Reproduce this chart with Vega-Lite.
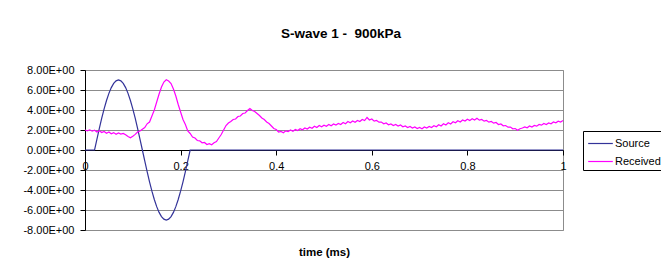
{
  "$schema": "https://vega.github.io/schema/vega-lite/v6.json",
  "width": 478,
  "height": 160,
  "autosize": {"type": "none"},
  "padding": {"left": 85, "top": 70, "right": 98, "bottom": 41},
  "background": "white",
  "config": {"font": "Liberation Sans", "view": {"stroke": "#8c8c8c", "strokeWidth": 1}},
  "title": {"text": "S-wave 1 - \u00a0900kPa", "fontSize": 13.5, "fontWeight": "bold", "color": "#000", "offset": 24, "dx": 17, "anchor": "middle"},
  "data": {"values": [
    {"s":"Source","t":0,"v":0},{"s":"Source","t":0.02,"v":0},{"s":"Source","t":0.025,"v":1.095},{"s":"Source","t":0.03,"v":2.163},{"s":"Source","t":0.035,"v":3.178},{"s":"Source","t":0.04,"v":4.115},{"s":"Source","t":0.045,"v":4.95},{"s":"Source","t":0.05,"v":5.663},{"s":"Source","t":0.055,"v":6.237},{"s":"Source","t":0.06,"v":6.657},{"s":"Source","t":0.065,"v":6.914},{"s":"Source","t":0.07,"v":7},{"s":"Source","t":0.075,"v":6.914},{"s":"Source","t":0.08,"v":6.657},{"s":"Source","t":0.085,"v":6.237},{"s":"Source","t":0.09,"v":5.663},{"s":"Source","t":0.095,"v":4.95},{"s":"Source","t":0.1,"v":4.115},{"s":"Source","t":0.105,"v":3.178},{"s":"Source","t":0.11,"v":2.163},{"s":"Source","t":0.115,"v":1.095},{"s":"Source","t":0.12,"v":0},{"s":"Source","t":0.125,"v":-1.095},{"s":"Source","t":0.13,"v":-2.163},{"s":"Source","t":0.135,"v":-3.178},{"s":"Source","t":0.14,"v":-4.115},{"s":"Source","t":0.145,"v":-4.95},{"s":"Source","t":0.15,"v":-5.663},{"s":"Source","t":0.155,"v":-6.237},{"s":"Source","t":0.16,"v":-6.657},{"s":"Source","t":0.165,"v":-6.914},{"s":"Source","t":0.17,"v":-7},{"s":"Source","t":0.175,"v":-6.914},{"s":"Source","t":0.18,"v":-6.657},{"s":"Source","t":0.185,"v":-6.237},{"s":"Source","t":0.19,"v":-5.663},{"s":"Source","t":0.195,"v":-4.95},{"s":"Source","t":0.2,"v":-4.115},{"s":"Source","t":0.205,"v":-3.178},{"s":"Source","t":0.21,"v":-2.163},{"s":"Source","t":0.215,"v":-1.095},{"s":"Source","t":0.22,"v":0},{"s":"Source","t":1,"v":0},
    {"s":"Received","t":0,"v":2.0},{"s":"Received","t":0.005,"v":1.92},{"s":"Received","t":0.01,"v":2.02},{"s":"Received","t":0.015,"v":1.88},{"s":"Received","t":0.02,"v":1.98},{"s":"Received","t":0.025,"v":1.8},{"s":"Received","t":0.03,"v":1.92},{"s":"Received","t":0.035,"v":1.74},{"s":"Received","t":0.04,"v":1.86},{"s":"Received","t":0.045,"v":1.68},{"s":"Received","t":0.05,"v":1.8},{"s":"Received","t":0.055,"v":1.62},{"s":"Received","t":0.06,"v":1.74},{"s":"Received","t":0.065,"v":1.58},{"s":"Received","t":0.07,"v":1.7},{"s":"Received","t":0.075,"v":1.6},{"s":"Received","t":0.08,"v":1.66},{"s":"Received","t":0.085,"v":1.52},{"s":"Received","t":0.09,"v":1.36},{"s":"Received","t":0.095,"v":1.22},{"s":"Received","t":0.1,"v":1.38},{"s":"Received","t":0.105,"v":1.56},{"s":"Received","t":0.11,"v":1.8},{"s":"Received","t":0.115,"v":1.9},{"s":"Received","t":0.12,"v":2.08},{"s":"Received","t":0.125,"v":2.24},{"s":"Received","t":0.13,"v":2.62},{"s":"Received","t":0.135,"v":2.8},{"s":"Received","t":0.14,"v":3.4},{"s":"Received","t":0.145,"v":4.0},{"s":"Received","t":0.15,"v":4.8},{"s":"Received","t":0.155,"v":5.6},{"s":"Received","t":0.16,"v":6.3},{"s":"Received","t":0.165,"v":6.8},{"s":"Received","t":0.17,"v":7.02},{"s":"Received","t":0.175,"v":6.9},{"s":"Received","t":0.18,"v":6.65},{"s":"Received","t":0.185,"v":6.1},{"s":"Received","t":0.19,"v":5.4},{"s":"Received","t":0.195,"v":4.55},{"s":"Received","t":0.2,"v":3.8},{"s":"Received","t":0.205,"v":3.05},{"s":"Received","t":0.21,"v":2.55},{"s":"Received","t":0.215,"v":1.9},{"s":"Received","t":0.22,"v":1.65},{"s":"Received","t":0.225,"v":1.3},{"s":"Received","t":0.23,"v":1.2},{"s":"Received","t":0.235,"v":0.95},{"s":"Received","t":0.24,"v":0.92},{"s":"Received","t":0.245,"v":0.72},{"s":"Received","t":0.25,"v":0.75},{"s":"Received","t":0.255,"v":0.55},{"s":"Received","t":0.26,"v":0.64},{"s":"Received","t":0.265,"v":0.52},{"s":"Received","t":0.27,"v":0.72},{"s":"Received","t":0.275,"v":0.85},{"s":"Received","t":0.28,"v":1.2},{"s":"Received","t":0.285,"v":1.55},{"s":"Received","t":0.29,"v":2.0},{"s":"Received","t":0.295,"v":2.45},{"s":"Received","t":0.3,"v":2.7},{"s":"Received","t":0.305,"v":2.85},{"s":"Received","t":0.31,"v":3.05},{"s":"Received","t":0.315,"v":3.1},{"s":"Received","t":0.32,"v":3.35},{"s":"Received","t":0.325,"v":3.4},{"s":"Received","t":0.33,"v":3.65},{"s":"Received","t":0.335,"v":3.7},{"s":"Received","t":0.34,"v":3.95},{"s":"Received","t":0.345,"v":4.15},{"s":"Received","t":0.35,"v":3.95},{"s":"Received","t":0.355,"v":3.85},{"s":"Received","t":0.36,"v":3.65},{"s":"Received","t":0.365,"v":3.45},{"s":"Received","t":0.37,"v":3.2},{"s":"Received","t":0.375,"v":3.05},{"s":"Received","t":0.38,"v":2.8},{"s":"Received","t":0.385,"v":2.65},{"s":"Received","t":0.39,"v":2.4},{"s":"Received","t":0.395,"v":2.15},{"s":"Received","t":0.4,"v":2.05},{"s":"Received","t":0.405,"v":1.8},{"s":"Received","t":0.41,"v":1.85},{"s":"Received","t":0.415,"v":1.72},{"s":"Received","t":0.42,"v":1.92},{"s":"Received","t":0.425,"v":1.85},{"s":"Received","t":0.43,"v":2.0},{"s":"Received","t":0.435,"v":1.88},{"s":"Received","t":0.44,"v":2.05},{"s":"Received","t":0.445,"v":1.95},{"s":"Received","t":0.45,"v":2.12},{"s":"Received","t":0.455,"v":2.02},{"s":"Received","t":0.46,"v":2.2},{"s":"Received","t":0.465,"v":2.1},{"s":"Received","t":0.47,"v":2.28},{"s":"Received","t":0.475,"v":2.18},{"s":"Received","t":0.48,"v":2.38},{"s":"Received","t":0.485,"v":2.25},{"s":"Received","t":0.49,"v":2.45},{"s":"Received","t":0.495,"v":2.32},{"s":"Received","t":0.5,"v":2.48},{"s":"Received","t":0.505,"v":2.38},{"s":"Received","t":0.51,"v":2.55},{"s":"Received","t":0.515,"v":2.42},{"s":"Received","t":0.52,"v":2.6},{"s":"Received","t":0.525,"v":2.5},{"s":"Received","t":0.53,"v":2.65},{"s":"Received","t":0.535,"v":2.55},{"s":"Received","t":0.54,"v":2.75},{"s":"Received","t":0.545,"v":2.62},{"s":"Received","t":0.55,"v":2.85},{"s":"Received","t":0.555,"v":2.72},{"s":"Received","t":0.56,"v":2.9},{"s":"Received","t":0.565,"v":2.78},{"s":"Received","t":0.57,"v":2.95},{"s":"Received","t":0.575,"v":2.85},{"s":"Received","t":0.58,"v":3.05},{"s":"Received","t":0.585,"v":2.95},{"s":"Received","t":0.59,"v":3.25},{"s":"Received","t":0.595,"v":3.0},{"s":"Received","t":0.6,"v":3.1},{"s":"Received","t":0.605,"v":2.88},{"s":"Received","t":0.61,"v":2.95},{"s":"Received","t":0.615,"v":2.78},{"s":"Received","t":0.62,"v":2.8},{"s":"Received","t":0.625,"v":2.62},{"s":"Received","t":0.63,"v":2.7},{"s":"Received","t":0.635,"v":2.52},{"s":"Received","t":0.64,"v":2.6},{"s":"Received","t":0.645,"v":2.45},{"s":"Received","t":0.65,"v":2.55},{"s":"Received","t":0.655,"v":2.4},{"s":"Received","t":0.66,"v":2.5},{"s":"Received","t":0.665,"v":2.32},{"s":"Received","t":0.67,"v":2.4},{"s":"Received","t":0.675,"v":2.25},{"s":"Received","t":0.68,"v":2.35},{"s":"Received","t":0.685,"v":2.2},{"s":"Received","t":0.69,"v":2.3},{"s":"Received","t":0.695,"v":2.15},{"s":"Received","t":0.7,"v":2.25},{"s":"Received","t":0.705,"v":2.12},{"s":"Received","t":0.71,"v":2.3},{"s":"Received","t":0.715,"v":2.2},{"s":"Received","t":0.72,"v":2.35},{"s":"Received","t":0.725,"v":2.25},{"s":"Received","t":0.73,"v":2.42},{"s":"Received","t":0.735,"v":2.32},{"s":"Received","t":0.74,"v":2.52},{"s":"Received","t":0.745,"v":2.4},{"s":"Received","t":0.75,"v":2.62},{"s":"Received","t":0.755,"v":2.5},{"s":"Received","t":0.76,"v":2.72},{"s":"Received","t":0.765,"v":2.6},{"s":"Received","t":0.77,"v":2.82},{"s":"Received","t":0.775,"v":2.72},{"s":"Received","t":0.78,"v":2.92},{"s":"Received","t":0.785,"v":2.8},{"s":"Received","t":0.79,"v":3.0},{"s":"Received","t":0.795,"v":2.9},{"s":"Received","t":0.8,"v":3.08},{"s":"Received","t":0.805,"v":2.95},{"s":"Received","t":0.81,"v":3.12},{"s":"Received","t":0.815,"v":3.0},{"s":"Received","t":0.82,"v":3.18},{"s":"Received","t":0.825,"v":2.98},{"s":"Received","t":0.83,"v":3.05},{"s":"Received","t":0.835,"v":2.88},{"s":"Received","t":0.84,"v":2.95},{"s":"Received","t":0.845,"v":2.78},{"s":"Received","t":0.85,"v":2.85},{"s":"Received","t":0.855,"v":2.68},{"s":"Received","t":0.86,"v":2.75},{"s":"Received","t":0.865,"v":2.55},{"s":"Received","t":0.87,"v":2.6},{"s":"Received","t":0.875,"v":2.42},{"s":"Received","t":0.88,"v":2.45},{"s":"Received","t":0.885,"v":2.28},{"s":"Received","t":0.89,"v":2.3},{"s":"Received","t":0.895,"v":2.12},{"s":"Received","t":0.9,"v":2.15},{"s":"Received","t":0.905,"v":1.98},{"s":"Received","t":0.91,"v":2.12},{"s":"Received","t":0.915,"v":2.2},{"s":"Received","t":0.92,"v":2.3},{"s":"Received","t":0.925,"v":2.22},{"s":"Received","t":0.93,"v":2.4},{"s":"Received","t":0.935,"v":2.3},{"s":"Received","t":0.94,"v":2.45},{"s":"Received","t":0.945,"v":2.38},{"s":"Received","t":0.95,"v":2.55},{"s":"Received","t":0.955,"v":2.48},{"s":"Received","t":0.96,"v":2.65},{"s":"Received","t":0.965,"v":2.55},{"s":"Received","t":0.97,"v":2.7},{"s":"Received","t":0.975,"v":2.62},{"s":"Received","t":0.98,"v":2.8},{"s":"Received","t":0.985,"v":2.72},{"s":"Received","t":0.99,"v":2.88},{"s":"Received","t":0.995,"v":2.8},{"s":"Received","t":1,"v":2.95}
  ]},
  "mark": {"type": "line", "strokeWidth": 1.2},
  "encoding": {
    "x": {"field": "t", "type": "quantitative", "scale": {"domain": [0, 1], "nice": false},
      "axis": {"title": "time (ms)", "offset": -80, "values": [0, 0.2, 0.4, 0.6, 0.8, 1], "format": ".1~f", "grid": false,
        "domainColor": "#000", "tickColor": "#000", "tickSize": 5, "labelPadding": 5, "labelFontSize": 11, "labelColor": "#000",
        "labelFlush": false, "titleFontSize": 11.5, "titleFontWeight": "bold", "titleColor": "#000", "titlePadding": 75}},
    "y": {"field": "v", "type": "quantitative", "scale": {"domain": [-8, 8], "nice": false},
      "axis": {"title": null, "values": [-8, -6, -4, -2, 0, 2, 4, 6, 8],
        "labelExpr": "(datum.value < 0 ? '-' : '') + format(abs(datum.value), '.2f') + 'E+00'",
        "grid": true, "gridColor": "#8c8c8c", "domainColor": "#000", "tickColor": "#000", "tickSize": 5, "labelPadding": 6,
        "labelFontSize": 11, "labelColor": "#000"}},
    "color": {"field": "s", "type": "nominal", "sort": ["Source", "Received"],
      "scale": {"domain": ["Source", "Received"], "range": ["#333399", "#ff00ff"]},
      "legend": {"title": null, "orient": "none", "legendX": 498, "legendY": 61, "strokeColor": "#000", "fillColor": "#fff",
        "padding": 3, "symbolType": "M-1.45,0H1.45", "symbolSize": 289, "symbolOffset": 5, "symbolStrokeWidth": 1.2, "labelFontSize": 11, "labelColor": "#000",
        "labelOffset": 5, "rowPadding": 3}}
  }
}
